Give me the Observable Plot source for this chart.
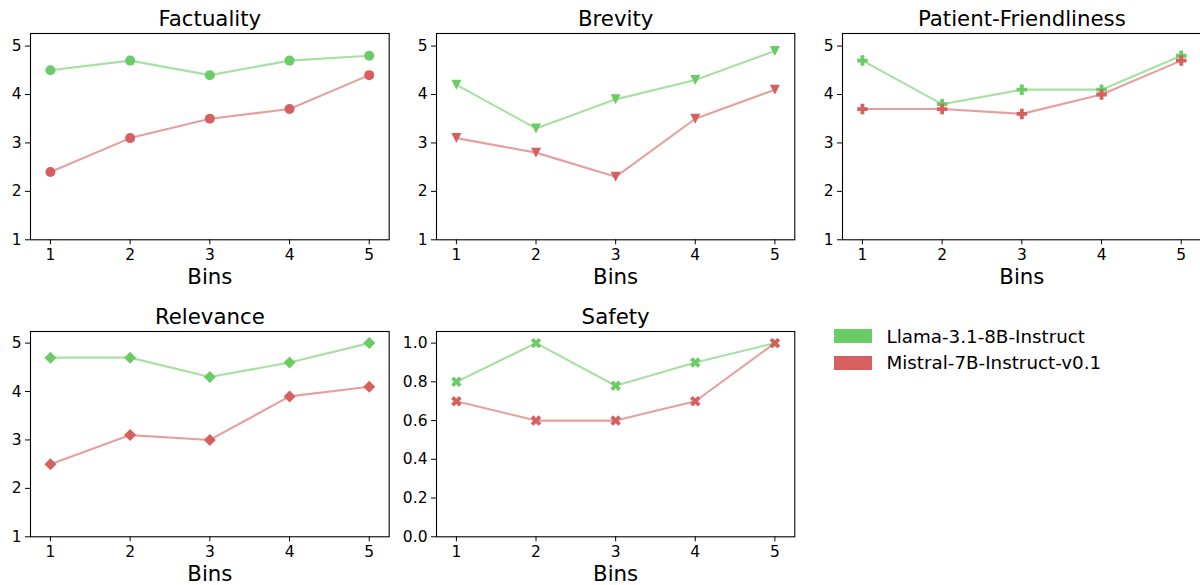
<!DOCTYPE html>
<html>
<head>
<meta charset="utf-8">
<script src="https://cdn.jsdelivr.net/npm/d3@7"></script>
<script src="https://cdn.jsdelivr.net/npm/@observablehq/plot@0.6"></script>
<style>
  html, body { margin: 0; padding: 0; background: #fff; overflow: hidden; }
  #root { position: relative; width: 1200px; height: 585px; overflow: hidden; background: #fff; font-family: "DejaVu Sans", sans-serif; }
  .panel { position: absolute; }
  .panel svg { overflow: visible; max-width: none !important; }
  .legend-item { position: absolute; display: flex; align-items: center; font-size: 18.3px; color: #000; white-space: nowrap; }
  .legend-swatch { width: 38.7px; height: 14px; margin-right: 14.3px; }
</style>
</head>
<body>
<div id="root"></div>
<script>
// ---- Data ----
const bins = [1, 2, 3, 4, 5];
const models = ["Llama-3.1-8B-Instruct", "Mistral-7B-Instruct-v0.1"];
const modelColors = ["#6ACC64", "#D65F5F"];

const metricNames = ["Factuality", "Brevity", "Patient-Friendliness", "Relevance", "Safety"];

const factualityLlama   = [4.5, 4.7, 4.4, 4.7, 4.8];
const factualityMistral = [2.4, 3.1, 3.5, 3.7, 4.4];
const brevityLlama      = [4.2, 3.3, 3.9, 4.3, 4.9];
const brevityMistral    = [3.1, 2.8, 2.3, 3.5, 4.1];
const patientLlama      = [4.7, 3.8, 4.1, 4.1, 4.8];
const patientMistral    = [3.7, 3.7, 3.6, 4.0, 4.7];
const relevanceLlama    = [4.7, 4.7, 4.3, 4.6, 5.0];
const relevanceMistral  = [2.5, 3.1, 3.0, 3.9, 4.1];
const safetyLlama       = [0.8, 1.0, 0.78, 0.9, 1.0];
const safetyMistral     = [0.7, 0.6, 0.6, 0.7, 1.0];

const scoreTicks  = [1, 2, 3, 4, 5];
const safetyTicks = [0, 0.2, 0.4, 0.6, 0.8, 1.0];

// ---- Custom marker symbols (matplotlib-like) ----
function poly(ctx, pts) {
  ctx.moveTo(pts[0][0], pts[0][1]);
  for (let i = 1; i < pts.length; i++) ctx.lineTo(pts[i][0], pts[i][1]);
  ctx.closePath();
}
const symCircle = { draw(ctx, size) { const r = Math.sqrt(size / Math.PI); ctx.moveTo(r, 0); ctx.arc(0, 0, r, 0, 2 * Math.PI); } };
const symTriDown = { draw(ctx, size) { const r = Math.sqrt(size / Math.PI); poly(ctx, [[0, r], [-r, -r], [r, -r]]); } };
const symDiamond = { draw(ctx, size) { const r = Math.sqrt(size / Math.PI) * 1.2; poly(ctx, [[0, -r], [r, 0], [0, r], [-r, 0]]); } };
function plusPts(a, t) {
  return [[-t,-a],[t,-a],[t,-t],[a,-t],[a,t],[t,t],[t,a],[-t,a],[-t,t],[-a,t],[-a,-t],[-t,-t]];
}
const symPlus = { draw(ctx, size) { const r = Math.sqrt(size / Math.PI); poly(ctx, plusPts(r * 1.05, r * 0.38)); } };
const symX = { draw(ctx, size) {
  const r = Math.sqrt(size / Math.PI);
  const pts = plusPts(r * 1.1, r * 0.38).map(([x, y]) => [(x - y) / Math.SQRT2, (x + y) / Math.SQRT2]);
  poly(ctx, pts);
} };

// ---- Panel layout (frame positions in page px) ----
const ML = 50, MR = 12, MT = 40, MB = 50;
const panels = [
  { title: metricNames[0], a: factualityLlama, b: factualityMistral, sym: symCircle,  y: [1, 5.26], ticks: scoreTicks,  fmt: d3.format("d"),  fx: [30, 388.7],    fy: [33, 239.3] },
  { title: metricNames[1], a: brevityLlama,    b: brevityMistral,    sym: symTriDown, y: [1, 5.26], ticks: scoreTicks,  fmt: d3.format("d"),  fx: [436, 794.3],   fy: [33, 239.3] },
  { title: metricNames[2], a: patientLlama,    b: patientMistral,    sym: symPlus,    y: [1, 5.26], ticks: scoreTicks,  fmt: d3.format("d"),  fx: [841.7, 1200.4], fy: [33, 239.3] },
  { title: metricNames[3], a: relevanceLlama,  b: relevanceMistral,  sym: symDiamond, y: [1, 5.24], ticks: scoreTicks,  fmt: d3.format("d"),  fx: [30, 388.7],    fy: [331, 536.3] },
  { title: metricNames[4], a: safetyLlama,     b: safetyMistral,     sym: symX,       y: [0, 1.06], ticks: safetyTicks, fmt: d3.format(".1f"), fx: [436, 794.3],   fy: [331, 536.3] }
];

const root = document.getElementById("root");
const TICK_FS = 15.5;

for (const p of panels) {
  const fw = p.fx[1] - p.fx[0];
  const fh = p.fy[1] - p.fy[0];
  const series = [p.a, p.b].map((vals, i) => bins.map((bin, j) => ({ bin, value: vals[j], model: models[i] })));
  const marks = [];
  series.forEach((s, i) => {
    marks.push(Plot.lineY(s, { x: "bin", y: "value", stroke: modelColors[i], strokeOpacity: 0.6, strokeWidth: 2.1 }));
    marks.push(Plot.dot(s, { x: "bin", y: "value", symbol: p.sym, r: 5, fill: modelColors[i], stroke: "none" }));
  });
  const chart = Plot.plot({
    width: ML + fw + MR,
    height: MT + fh + MB,
    marginLeft: ML, marginRight: MR, marginTop: MT, marginBottom: MB,
    x: { domain: [0.75, 5.25] },
    y: { domain: p.y },
    style: { fontFamily: "DejaVu Sans", fontSize: TICK_FS + "px", color: "#000", background: "transparent", overflow: "visible", maxWidth: "none" },
    marks: [
      Plot.axisX({ ticks: bins, tickFormat: d3.format("d"), tickSize: 5, tickPadding: 4, label: null, fontSize: TICK_FS, stroke: "#000" }),
      Plot.axisY({ ticks: p.ticks, tickFormat: p.fmt, tickSize: 5, tickPadding: 4, label: null, fontSize: TICK_FS, stroke: "#000" }),
      ...marks,
      Plot.frame({ stroke: "#000", strokeWidth: 1.1 }),
      Plot.text([p.title], { frameAnchor: "top", lineAnchor: "bottom", dy: -7.5, fontSize: 21.3, fill: "#000" }),
      Plot.text(["Bins"], { frameAnchor: "bottom", lineAnchor: "bottom", dy: 44.5, fontSize: 21.3, fill: "#000" })
    ]
  });
  const wrap = document.createElement("div");
  wrap.className = "panel";
  wrap.style.left = (p.fx[0] - ML) + "px";
  wrap.style.top = (p.fy[0] - MT) + "px";
  wrap.appendChild(chart);
  root.appendChild(wrap);
}

// ---- Legend ----
const legendTops = [329, 355.7];
models.forEach((m, i) => {
  const item = document.createElement("div");
  item.className = "legend-item";
  item.style.left = "833.5px";
  item.style.top = (legendTops[i] - 4) + "px";
  item.style.height = "22px";
  const sw = document.createElement("div");
  sw.className = "legend-swatch";
  sw.style.background = modelColors[i];
  const tx = document.createElement("span");
  tx.textContent = m;
  item.appendChild(sw);
  item.appendChild(tx);
  root.appendChild(item);
});
</script>
</body>
</html>
